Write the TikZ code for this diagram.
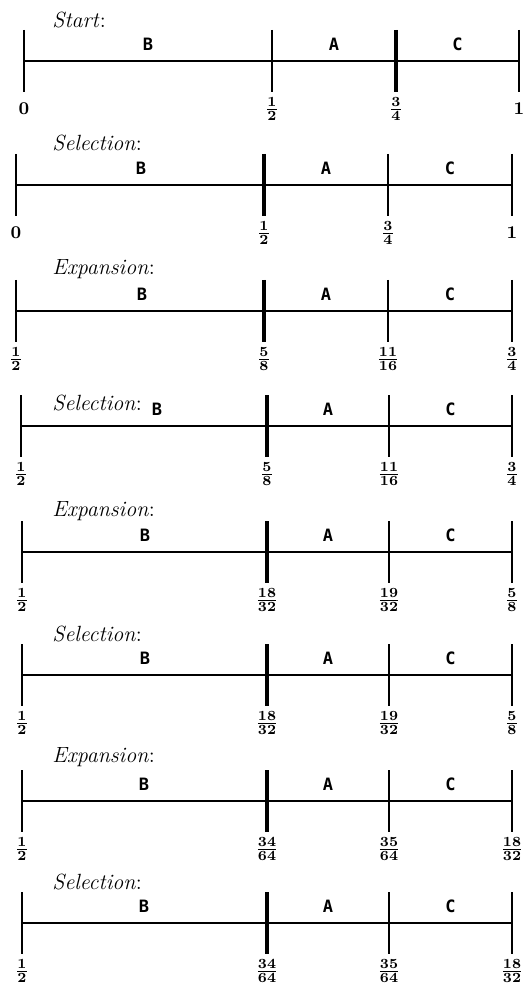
\documentclass[tikz,border=0pt]{standalone}
\usepackage{amsmath}
\usepackage{fontspec}
\newfontfamily\partfont{DejaVu Sans Mono}
\begin{document}
\begin{tikzpicture}[x=0.5pt,y=-0.5pt,
  stage/.style={anchor=base west,inner xsep=0pt,font=\fontsize{11}{13}\selectfont},
  part/.style={font=\fontsize{8.5}{10}\selectfont\partfont\bfseries},
  val/.style={font=\fontsize{9.5}{11}\selectfont\boldmath,inner sep=1pt},
  axisline/.style={line width=1.2pt},
  tickline/.style={line width=1.3pt},
  heavytick/.style={line width=2.2pt}]
\useasboundingbox (0,0) rectangle (531,988);
% one row per step: line y / title baseline / title / tick x's / heavy tick / B x / tick labels
\foreach \y/\ty/\ttl/\xa/\xb/\xc/\xd/\xh/\xl/\la/\lb/\lc/\ld [count=\n] in {
  61/28/Start/24/272/396/519/396/148/{$0$}/{$\frac12$}/{$\frac34$}/{$1$},
  185/151/Selection/16/264/388/512/264/141/{$0$}/{$\frac12$}/{$\frac34$}/{$1$},
  311/275/Expansion/16/264/388/512/264/142/{$\frac12$}/{$\frac58$}/{$\frac{11}{16}$}/{$\frac34$},
  426/410/Selection/21/267/389/512/267/157/{$\frac12$}/{$\frac58$}/{$\frac{11}{16}$}/{$\frac34$},
  552/516/Expansion/22/267/389/512/267/145/{$\frac12$}/{$\frac{18}{32}$}/{$\frac{19}{32}$}/{$\frac58$},
  675/641/Selection/22/267/389/512/267/145/{$\frac12$}/{$\frac{18}{32}$}/{$\frac{19}{32}$}/{$\frac58$},
  801/762/Expansion/22/267/389/512/267/144/{$\frac12$}/{$\frac{34}{64}$}/{$\frac{35}{64}$}/{$\frac{18}{32}$},
  923/889/Selection/22/267/389/512/267/144/{$\frac12$}/{$\frac{34}{64}$}/{$\frac{35}{64}$}/{$\frac{18}{32}$}}
{
  \node[stage] (ttl\n) at (52,\ty) {\textit{\ttl}:};
  \foreach \x/\lab [count=\k] in {\xa/\la,\xb/\lb,\xc/\lc,\xd/\ld}{
    \coordinate (t\n-\k) at (\x,\y);
    \draw[tickline] (t\n-\k) ++(0,-31) -- ++(0,62);
    \path (t\n-\k) ++(0,48) node[val] (v\n-\k) {\lab};
  }
  \coordinate (h\n) at (\xh,\y);
  \draw[heavytick] (h\n) ++(0,-31) -- ++(0,62);
  \draw[axisline] (t\n-1) -- (t\n-4);
  \node[part] (b\n) at (\xl,\y-17) {B};
  \path (t\n-2) -- (t\n-3) node[part,midway,yshift=8.5pt] (a\n) {A};
  \path (t\n-3) -- (t\n-4) node[part,midway,yshift=8.5pt] (c\n) {C};
}
\end{tikzpicture}
\end{document}
